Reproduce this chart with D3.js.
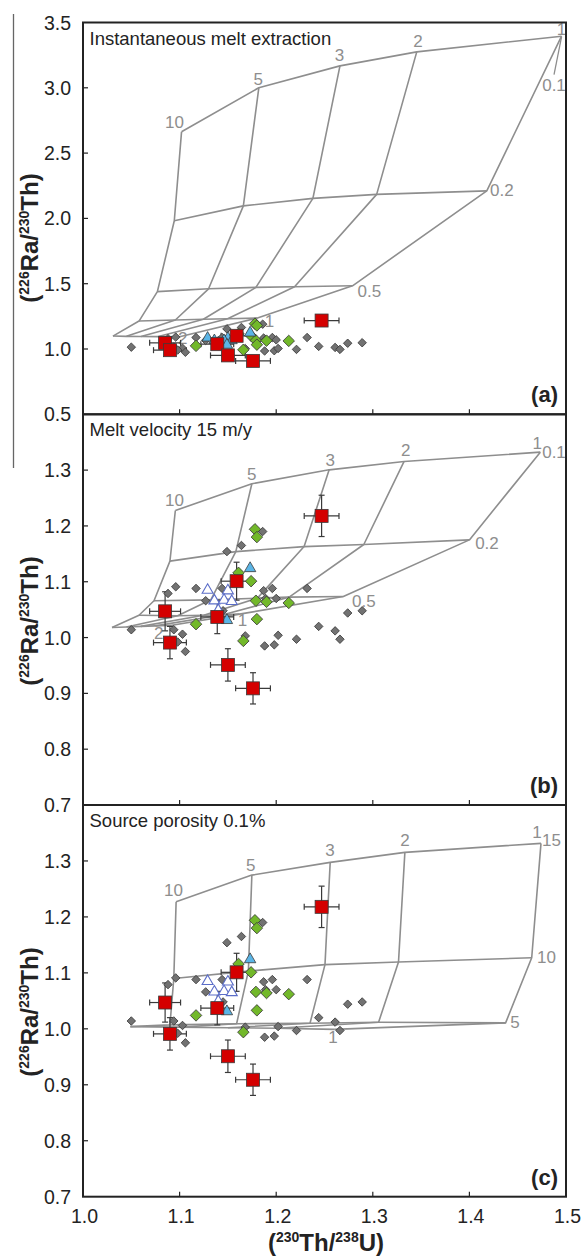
<!DOCTYPE html>
<html>
<head>
<meta charset="utf-8">
<script src="https://cdn.jsdelivr.net/npm/d3@7/dist/d3.min.js"></script>
<style>
  html, body { margin: 0; padding: 0; background: #fff; }
  svg { display: block; font-family: "Liberation Sans", Arial, sans-serif; }
</style>
</head>
<body>
<svg id="chart" width="584" height="1260"></svg>
<script>
// ---- Sample data: (230Th/238U) vs (226Ra/230Th) ----
const grayDiamonds = [
  [1.050, 1.014], [1.088, 1.079], [1.096, 1.091], [1.094, 1.014], [1.103, 1.006],
  [1.098, 0.992], [1.106, 0.975], [1.117, 1.088], [1.127, 1.066], [1.144, 1.088],
  [1.145, 1.048], [1.149, 1.154], [1.164, 1.165], [1.168, 1.003], [1.188, 0.985],
  [1.187, 1.084], [1.189, 1.070], [1.196, 1.088], [1.200, 1.070], [1.198, 0.987],
  [1.202, 1.004], [1.221, 0.997], [1.232, 1.088], [1.244, 1.020], [1.261, 1.012],
  [1.266, 0.997], [1.274, 1.044], [1.289, 1.048], [1.186, 1.190]
];
const greenDiamonds = [
  [1.117, 1.024], [1.166, 0.994], [1.174, 1.101], [1.179, 1.066], [1.180, 1.033],
  [1.190, 1.064], [1.213, 1.062], [1.161, 1.116], [1.178, 1.194], [1.180, 1.180]
];
const blueTriangles = [[1.173, 1.124], [1.149, 1.031]];
const openTriangles = [
  [1.129, 1.085], [1.150, 1.084], [1.136, 1.066], [1.146, 1.067], [1.154, 1.065], [1.140, 1.049]
];
// [Th/U, Ra/Th, ±Th/U, ±Ra/Th]
const redSquares = [
  [1.085, 1.047, 0.016, 0.035],
  [1.090, 0.991, 0.017, 0.029],
  [1.139, 1.037, 0.017, 0.030],
  [1.159, 1.101, 0.016, 0.034],
  [1.150, 0.951, 0.018, 0.029],
  [1.176, 0.909, 0.018, 0.028],
  [1.247, 1.218, 0.018, 0.037]
];

// ---- Model grids: rows = porosity (or melt velocity), columns = upwelling rate 10,5,3,2,1 ----
const gridInstant = [
  [[1.102, 2.663], [1.182, 3.000], [1.266, 3.168], [1.3455, 3.275], [1.4954, 3.395]], // 0.1
  [[1.0945, 1.982], [1.166, 2.096], [1.238, 2.153], [1.304, 2.184], [1.418, 2.211]],  // 0.2
  [[1.077, 1.439], [1.130, 1.461], [1.179, 1.472], [1.219, 1.477], [1.279, 1.484]],   // 0.5
  [[1.058, 1.214], [1.0956, 1.222], [1.1246, 1.228], [1.1497, 1.232], [1.1806, 1.237]], // 1
  [[1.031, 1.099], [1.045, 1.097], [1.060, 1.096], [1.078, 1.095], [1.100, 1.094]]    // 2
];
const gridVelocity = [
  [[1.0956, 1.2276], [1.1748, 1.2755], [1.2548, 1.3005], [1.3324, 1.3155], [1.4734, 1.3322]],
  [[1.090, 1.137], [1.1582, 1.154], [1.2289, 1.163], [1.2907, 1.1667], [1.400, 1.175]],
  [[1.0735, 1.066], [1.1323, 1.0676], [1.1806, 1.0706], [1.2134, 1.0724], [1.2695, 1.0735]],
  [[1.058, 1.040], [1.098, 1.039], [1.125, 1.040], [1.145, 1.041], [1.162, 1.042]],
  [[1.030, 1.018], [1.045, 1.019], [1.060, 1.020], [1.075, 1.021], [1.092, 1.022]]
];
const gridPorosity = [
  [[1.0964, 1.2269], [1.1748, 1.2747], [1.2559, 1.2975], [1.3332, 1.3154], [1.4741, 1.3315]], // 15 m/y
  [[1.094, 1.090], [1.1712, 1.1032], [1.2505, 1.1147], [1.3266, 1.1194], [1.4645, 1.127]],    // 10
  [[1.090, 1.007], [1.159, 1.009], [1.235, 1.010], [1.306, 1.0118], [1.4375, 1.0107]],        // 5
  [[1.049, 1.004], [1.100, 1.003], [1.150, 1.002], [1.200, 1.001], [1.260, 0.999]]            // 1
];

// Grid annotations [text, Th/U, Ra/Th]
const labelsInstant = [
  ["10", 1.0948, 2.731], ["5", 1.1814, 3.066], ["3", 1.2656, 3.250], ["2", 1.3468, 3.351],
  ["1", 1.4954, 3.446], ["0.1", 1.4876, 3.020], ["0.2", 1.4336, 2.211], ["0.5", 1.2965, 1.438],
  ["1", 1.193, 1.209], ["2", 1.1033, 1.082]
];
const leaderInstant = [[1.4954, 3.390], [1.4876, 3.100]];
const labelsVelocity = [
  ["10", 1.0948, 1.2455], ["5", 1.1748, 1.2916], ["3", 1.2559, 1.3172], ["2", 1.334, 1.3351],
  ["1", 1.4703, 1.3484], ["0.1", 1.4876, 1.3323], ["0.2", 1.4182, 1.1692], ["0.5", 1.2907, 1.0645],
  ["1", 1.1651, 1.0305], ["2", 1.0783, 1.0079]
];
const labelsPorosity = [
  ["10", 1.0937, 1.2466], ["5", 1.1736, 1.2927], ["3", 1.2557, 1.3183], ["2", 1.3333, 1.3362],
  ["1", 1.4700, 1.3505], ["15", 1.4850, 1.3362], ["10", 1.4799, 1.1272], ["5", 1.4472, 1.0108],
  ["1", 1.2588, 0.9839]
];

const xTicks = [1.0, 1.1, 1.2, 1.3, 1.4, 1.5];
const yTicksA = [0.5, 1.0, 1.5, 2.0, 2.5, 3.0, 3.5];
const yTicksB = [0.7, 0.8, 0.9, 1.0, 1.1, 1.2, 1.3];

const panels = [
  { title: "Instantaneous melt extraction", letter: "(a)", domain: [0.5, 3.5], range: [414.3, 22.5],
    ticks: yTicksA, grid: gridInstant, labels: labelsInstant, leader: leaderInstant,
    openAsFilled: true, titleY: 238 },
  { title: "Melt velocity 15 m/y", letter: "(b)", domain: [0.7, 1.4], range: [805, 414.3],
    ticks: yTicksB, grid: gridVelocity, labels: labelsVelocity, leader: null,
    openAsFilled: false, titleY: 621 },
  { title: "Source porosity 0.1%", letter: "(c)", domain: [0.7, 1.4], range: [1196.7, 805],
    ticks: yTicksB, grid: gridPorosity, labels: labelsPorosity, leader: null,
    openAsFilled: false, titleY: 1012 }
];

const svg = d3.select("#chart");
const x = d3.scaleLinear().domain([1.0, 1.5]).range([83, 566]);

const ink = "#232323";
const gridColor = "#8e8e8e";
const fmt = d3.format(".1f");

// stray rule at the far left edge
svg.append("line").attr("x1", 13.5).attr("x2", 13.5).attr("y1", 14).attr("y2", 468)
  .attr("stroke", "#666").attr("stroke-width", 1.3);

const diamond = d3.symbol().type(d3.symbolSquare);
const tri = d3.symbol().type(d3.symbolTriangle);

panels.forEach((p, i) => {
  const y = d3.scaleLinear().domain(p.domain).range(p.range);
  const g = svg.append("g");
  const [yb, yt] = p.range;

  // model grid
  const line = d3.line().x(d => x(d[0])).y(d => y(d[1]));
  const gg = g.append("g").attr("fill", "none").attr("stroke", gridColor)
    .attr("stroke-width", 1.6).attr("stroke-linejoin", "round");
  p.grid.forEach(row => gg.append("path").attr("d", line(row)));
  p.grid[0].forEach((_, c) => gg.append("path").attr("d", line(p.grid.map(r => r[c]))));
  if (p.leader) gg.append("path").attr("d", line(p.leader)).attr("stroke-width", 1.3);

  g.append("g").selectAll("text").data(p.labels).join("text")
    .attr("x", d => x(d[1])).attr("y", d => y(d[2]))
    .attr("text-anchor", "middle").attr("dominant-baseline", "central")
    .attr("font-size", 17).attr("fill", gridColor).text(d => d[0]);

  // error bars
  const eb = g.append("g").attr("stroke", "#3a3a3a").attr("stroke-width", 1.2);
  redSquares.forEach(d => {
    const cx = x(d[0]), cy = y(d[1]);
    const x0 = x(d[0] - d[2]), x1 = x(d[0] + d[2]);
    const y0 = y(d[1] - d[3]), y1 = y(d[1] + d[3]);
    eb.append("line").attr("x1", x0).attr("x2", x1).attr("y1", cy).attr("y2", cy);
    eb.append("line").attr("x1", x0).attr("x2", x0).attr("y1", cy - 3).attr("y2", cy + 3);
    eb.append("line").attr("x1", x1).attr("x2", x1).attr("y1", cy - 3).attr("y2", cy + 3);
    eb.append("line").attr("x1", cx).attr("x2", cx).attr("y1", y0).attr("y2", y1);
    eb.append("line").attr("x1", cx - 3).attr("x2", cx + 3).attr("y1", y0).attr("y2", y0);
    eb.append("line").attr("x1", cx - 3).attr("x2", cx + 3).attr("y1", y1).attr("y2", y1);
  });

  // sample markers
  g.append("g").selectAll("path").data(grayDiamonds).join("path")
    .attr("d", diamond.size(36)())
    .attr("transform", d => `translate(${x(d[0])},${y(d[1])}) rotate(45)`)
    .attr("fill", "#727272").attr("stroke", "#3a3a3a").attr("stroke-width", 0.8);

  g.append("g").selectAll("path").data(greenDiamonds).join("path")
    .attr("d", diamond.size(66)())
    .attr("transform", d => `translate(${x(d[0])},${y(d[1])}) rotate(45)`)
    .attr("fill", "#72b82a").attr("stroke", "#3a3a3a").attr("stroke-width", 0.8);

  g.append("g").selectAll("path").data(openTriangles).join("path")
    .attr("d", tri.size(52)())
    .attr("transform", d => `translate(${x(d[0])},${y(d[1])})`)
    .attr("fill", p.openAsFilled ? "#5bb5e6" : "#fff")
    .attr("stroke", p.openAsFilled ? "#3a3a3a" : "#5b6dc8")
    .attr("stroke-width", p.openAsFilled ? 0.8 : 1.1);

  g.append("g").selectAll("path").data(blueTriangles).join("path")
    .attr("d", tri.size(56)())
    .attr("transform", d => `translate(${x(d[0])},${y(d[1])})`)
    .attr("fill", "#5bb5e6").attr("stroke", "#3a3a3a").attr("stroke-width", 0.8);

  g.append("g").selectAll("rect").data(redSquares).join("rect")
    .attr("x", d => x(d[0]) - 6.5).attr("y", d => y(d[1]) - 6.5)
    .attr("width", 13).attr("height", 13)
    .attr("fill", "#d40000").attr("stroke", "#3a3a3a").attr("stroke-width", 0.8);

  // frame and axes
  g.append("rect").attr("x", x(1.0)).attr("y", yt).attr("width", x(1.5) - x(1.0)).attr("height", yb - yt)
    .attr("fill", "none").attr("stroke", ink).attr("stroke-width", 2);

  const ax = g.append("g").attr("stroke", ink).attr("stroke-width", 1.2);
  xTicks.slice(1, -1).forEach(t => ax.append("line")
    .attr("x1", x(t)).attr("x2", x(t)).attr("y1", yb).attr("y2", yb - 5));
  p.ticks.forEach(t => {
    if (y(t) > yt + 1 && y(t) < yb - 1)
      ax.append("line").attr("x1", x(1.0)).attr("x2", x(1.0) + 5).attr("y1", y(t)).attr("y2", y(t));
  });

  g.append("g").selectAll("text").data(p.ticks).join("text")
    .attr("x", 71).attr("y", d => y(d)).attr("text-anchor", "end")
    .attr("dominant-baseline", "central").attr("font-size", 19.5).attr("fill", ink)
    .text(d => fmt(d));

  g.append("text").attr("x", 89.5).attr("y", yt + 22).attr("font-size", 18.5).attr("fill", ink)
    .text(p.title);

  g.append("text").attr("x", 558).attr("y", yb - 12).attr("text-anchor", "end")
    .attr("font-size", 22).attr("font-weight", "bold").attr("fill", ink).text(p.letter);

  // y axis title
  const yt2 = g.append("text").attr("transform", `translate(38,${p.titleY}) rotate(-90)`)
    .attr("text-anchor", "middle").attr("font-weight", "bold").attr("font-size", 24).attr("fill", ink);
  yt2.append("tspan").text("(");
  yt2.append("tspan").attr("font-size", 14).attr("dy", -9).text("226");
  yt2.append("tspan").attr("dy", 9).text("Ra/");
  yt2.append("tspan").attr("font-size", 14).attr("dy", -9).text("230");
  yt2.append("tspan").attr("dy", 9).text("Th)");
});

// x tick labels and title
svg.append("g").selectAll("text").data(xTicks).join("text")
  .attr("x", d => x(d) + 1.5).attr("y", 1216).attr("text-anchor", "middle")
  .attr("dominant-baseline", "central").attr("font-size", 19.5).attr("fill", ink)
  .text(d => fmt(d));

const xt = svg.append("text").attr("x", 326).attr("y", 1251).attr("text-anchor", "middle")
  .attr("font-weight", "bold").attr("font-size", 24).attr("fill", ink);
xt.append("tspan").text("(");
xt.append("tspan").attr("font-size", 14).attr("dy", -9).text("230");
xt.append("tspan").attr("dy", 9).text("Th/");
xt.append("tspan").attr("font-size", 14).attr("dy", -9).text("238");
xt.append("tspan").attr("dy", 9).text("U)");
</script>
</body>
</html>
